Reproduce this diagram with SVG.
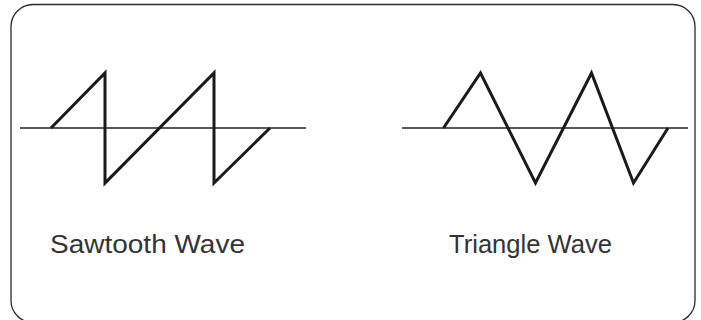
<svg xmlns="http://www.w3.org/2000/svg" width="701" height="320" viewBox="0 0 701 320">
<style>
.frame{fill:#fff;stroke:#2a2a2a;stroke-width:1.3}
.axis{stroke:#222;stroke-width:1.4;fill:none}
.wave{stroke:#1a1a1a;stroke-width:3;fill:none;stroke-linejoin:miter}
.lbl{font-family:"Liberation Sans",Arial,sans-serif;font-size:26px;fill:#333}
</style>
<rect width="701" height="320" fill="#fff"/>
<rect class="frame" x="11" y="4.5" width="684" height="318" rx="22" ry="22"/>
<g id="sawtooth">
<line class="axis" x1="20" y1="128" x2="306" y2="128"/>
<polyline class="wave" points="51,128 105,73 105,183 214,73 214,183 270,128"/>
<text class="lbl" x="50" y="253" textLength="195" lengthAdjust="spacingAndGlyphs">Sawtooth Wave</text>
</g>
<g id="triangle">
<line class="axis" x1="402" y1="128" x2="688" y2="128"/>
<polyline class="wave" points="443.5,128 480.5,73 535.5,183 591.5,73 633.5,183 668,128"/>
<text class="lbl" x="449" y="253" textLength="163" lengthAdjust="spacingAndGlyphs">Triangle Wave</text>
</g>
</svg>
